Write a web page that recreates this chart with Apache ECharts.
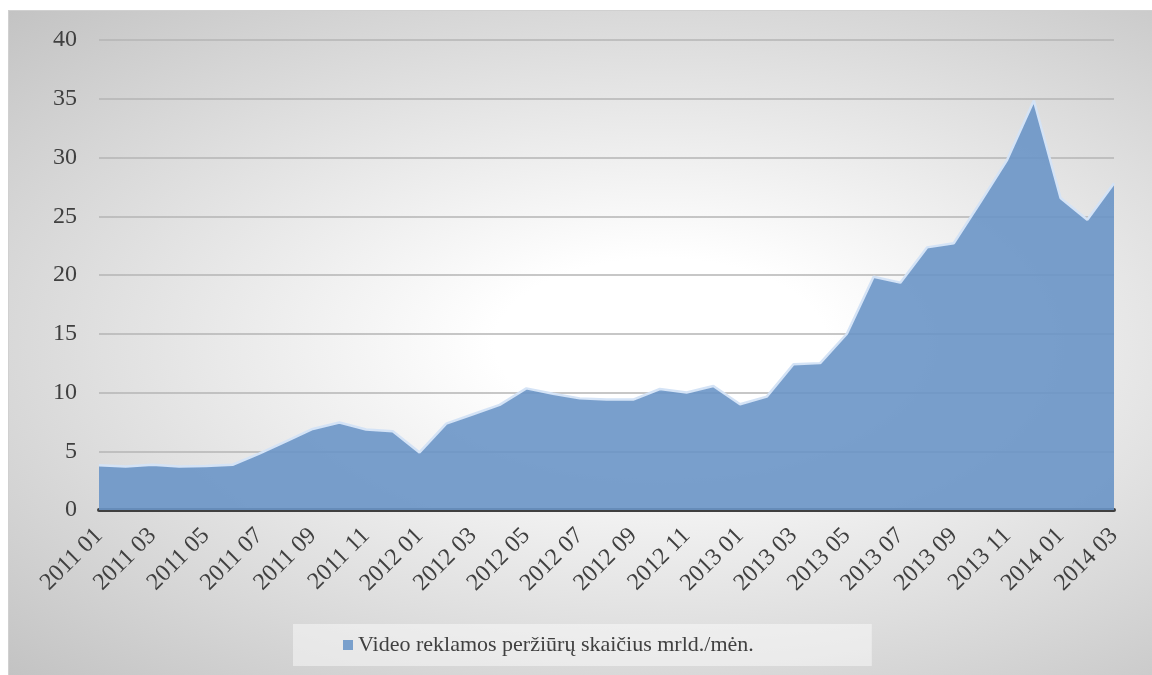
<!DOCTYPE html>
<html>
<head>
<meta charset="utf-8">
<script src="https://cdn.jsdelivr.net/npm/echarts@6/dist/echarts.min.js"></script>
<style>
  html, body { margin: 0; padding: 0; background: #ffffff; }
  #chart {
    position: absolute; left: 8px; top: 10px; width: 1144px; height: 665px;
    border-left: 1px solid #d0d0d0; border-top: 1px solid #d0d0d0; box-sizing: border-box;
    background: radial-gradient(ellipse farthest-corner at 57% 50%, #ffffff 0%, #ffffff 18%, #c3c3c3 100%);
  }
</style>
</head>
<body>
<div id="chart"></div>
<script>
// Monthly periods, 2011 01 – 2014 03
const months = [
  '2011 01','2011 02','2011 03','2011 04','2011 05','2011 06','2011 07','2011 08','2011 09','2011 10','2011 11','2011 12',
  '2012 01','2012 02','2012 03','2012 04','2012 05','2012 06','2012 07','2012 08','2012 09','2012 10','2012 11','2012 12',
  '2013 01','2013 02','2013 03','2013 04','2013 05','2013 06','2013 07','2013 08','2013 09','2013 10','2013 11','2013 12',
  '2014 01','2014 02','2014 03'
];
// Video ad views, billions per month
const views = [
  3.8, 3.7, 3.85, 3.7, 3.75, 3.85, 4.8, 5.85, 6.9, 7.45, 6.85, 6.7,
  4.9, 7.35, 8.15, 8.95, 10.35, 9.9, 9.5, 9.4, 9.4, 10.3, 10.0, 10.55,
  9.0, 9.65, 12.4, 12.5, 15.0, 19.85, 19.35, 22.35, 22.7, 26.2, 29.8, 34.85,
  26.55, 24.7, 27.8
];
const seriesName = 'Video reklamos peržiūrų skaičius mrld./mėn.';

const chart = echarts.init(document.getElementById('chart'), null, { renderer: 'canvas' });
const font = '"Liberation Serif", "DejaVu Serif", serif';

chart.setOption({
  backgroundColor: 'transparent',
  animation: false,
  grid: { left: 90, right: 38, top: 29, bottom: 165 },
  legend: {
    bottom: 9,
    left: 284,
    itemWidth: 10,
    itemHeight: 10,
    itemGap: 4,
    padding: [10, 118, 10, 50],
    backgroundColor: 'rgba(255,255,255,0.45)',
    textStyle: { fontFamily: font, fontSize: 22, color: '#404040' },
    data: [{ name: seriesName, icon: 'rect' }]
  },
  xAxis: {
    type: 'category',
    data: months,
    boundaryGap: false,
    axisLine: { show: true, lineStyle: { color: '#404040', width: 4 } },
    axisTick: { show: false },
    axisLabel: {
      interval: 1,
      rotate: 45,
      margin: 22,
      fontFamily: font,
      fontSize: 24,
      color: '#404040'
    },
    splitLine: { show: false }
  },
  yAxis: {
    type: 'value',
    min: 0,
    max: 40,
    interval: 5,
    axisLine: { show: false },
    axisTick: { show: false },
    axisLabel: { margin: 22, fontFamily: font, fontSize: 24, color: '#404040' },
    splitLine: { lineStyle: { color: '#b4b4b4', width: 1.5 } }
  },
  series: [{
    name: seriesName,
    type: 'line',
    data: views,
    symbol: 'none',
    lineStyle: { color: '#d4e3f6', width: 2.5 },
    itemStyle: { color: '#7aa0cc' },
    areaStyle: { color: '#6a95c6', opacity: 0.9 },
    z: 2
  }]
});
</script>
</body>
</html>
